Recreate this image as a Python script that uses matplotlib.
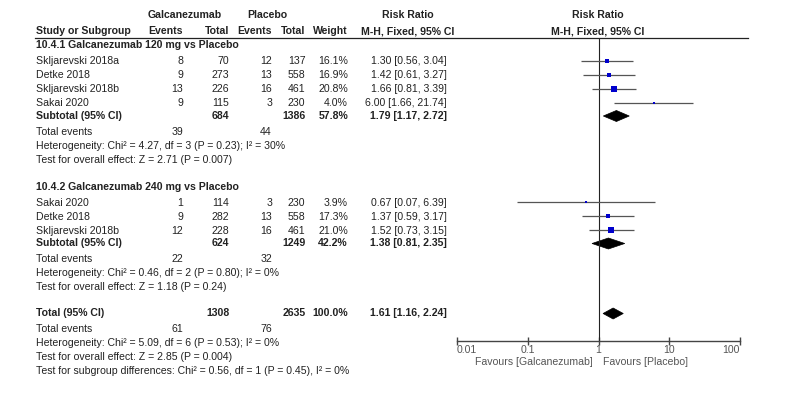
import numpy as np
import matplotlib
matplotlib.use("Agg")
import matplotlib.pyplot as plt
from matplotlib.patches import Polygon

plt.rcParams['font.family'] = ['Liberation Sans', 'DejaVu Sans']
FS = 7.6

# ---- data ----
g1_name = "10.4.1 Galcanezumab 120 mg vs Placebo"
g1_study = ["Skljarevski 2018a", "Detke 2018", "Skljarevski 2018b", "Sakai 2020"]
g1_ev_g = [8, 9, 13, 9]
g1_tot_g = [70, 273, 226, 115]
g1_ev_p = [12, 13, 16, 3]
g1_tot_p = [137, 558, 461, 230]
g1_w = [16.1, 16.9, 20.8, 4.0]
g1_rr = [1.30, 1.42, 1.66, 6.00]
g1_lo = [0.56, 0.61, 0.81, 1.66]
g1_hi = [3.04, 3.27, 3.39, 21.74]
g1_sub = (684, 1386, 57.8, 1.79, 1.17, 2.72)
g1_events = (39, 44)
g1_het = "Heterogeneity: Chi\u00b2 = 4.27, df = 3 (P = 0.23); I\u00b2 = 30%"
g1_z = "Test for overall effect: Z = 2.71 (P = 0.007)"

g2_name = "10.4.2 Galcanezumab 240 mg vs Placebo"
g2_study = ["Sakai 2020", "Detke 2018", "Skljarevski 2018b"]
g2_ev_g = [1, 9, 12]
g2_tot_g = [114, 282, 228]
g2_ev_p = [3, 13, 16]
g2_tot_p = [230, 558, 461]
g2_w = [3.9, 17.3, 21.0]
g2_rr = [0.67, 1.37, 1.52]
g2_lo = [0.07, 0.59, 0.73]
g2_hi = [6.39, 3.17, 3.15]
g2_sub = (624, 1249, 42.2, 1.38, 0.81, 2.35)
g2_events = (22, 32)
g2_het = "Heterogeneity: Chi\u00b2 = 0.46, df = 2 (P = 0.80); I\u00b2 = 0%"
g2_z = "Test for overall effect: Z = 1.18 (P = 0.24)"

tot = (1308, 2635, 100.0, 1.61, 1.16, 2.24)
tot_events = (61, 76)
tot_het = "Heterogeneity: Chi\u00b2 = 5.09, df = 6 (P = 0.53); I\u00b2 = 0%"
tot_z = "Test for overall effect: Z = 2.85 (P = 0.004)"
tot_sub = "Test for subgroup differences: Chi\u00b2 = 0.56, df = 1 (P = 0.45), I\u00b2 = 0%"

ticks = [0.01, 0.1, 1, 10, 100]
tick_labels = ["0.01", "0.1", "1", "10", "100"]

# ---- layout (pixel rows, top = 0) ----
W, H = 800, 404
fig = plt.figure(figsize=(W / 100, H / 100), dpi=100)
tab = fig.add_axes([0, 0, 1, 1])
tab.set_xlim(0, W)
tab.set_ylim(H, 0)
tab.axis('off')

ax_top, ax_bot, ax_l, ax_r = 37.5, 341, 457, 740
fx = fig.add_axes([ax_l / W, (H - ax_bot) / H, (ax_r - ax_l) / W, (ax_bot - ax_top) / H])
fx.set_xscale('log')
fx.set_xlim(0.01, 100)
fx.set_ylim(ax_bot, ax_top)
fx.patch.set_alpha(0)
for s in ['top', 'left', 'right']:
    fx.spines[s].set_visible(False)
fx.spines['bottom'].set_color('#444444')
fx.spines['bottom'].set_linewidth(1.0)
fx.set_yticks([])
fx.set_xticks(ticks)
fx.set_xticklabels(tick_labels)
fx.minorticks_off()
fx.tick_params(axis='x', direction='inout', length=6, width=1.0, color='#444444',
               labelsize=FS, labelcolor='#555555', pad=0)
lbls = fx.get_xticklabels()
lbls[0].set_ha('left')
lbls[-1].set_ha('right')
fx.axvline(1, color='#222222', lw=0.8)

xs = dict(name=36, evg=183, totg=229.5, evp=272, totp=305.5, w=348, rr=447)
txt = dict(fontsize=FS, color='#222222', va='center')


def row(y, name, evg, totg, evp, totp, w, rr, lo, hi, bold=False):
    fw = 'bold' if bold else 'normal'
    tab.text(xs['name'], y, name, ha='left', fontweight=fw, **txt)
    if evg is not None:
        tab.text(xs['evg'], y, str(evg), ha='right', fontweight=fw, **txt)
    tab.text(xs['totg'], y, str(totg), ha='right', fontweight=fw, **txt)
    if evp is not None:
        tab.text(xs['evp'], y, str(evp), ha='right', fontweight=fw, **txt)
    tab.text(xs['totp'], y, str(totp), ha='right', fontweight=fw, **txt)
    tab.text(xs['w'], y, "%.1f%%" % w, ha='right', fontweight=fw, **txt)
    tab.text(xs['rr'], y, "%.2f [%.2f, %.2f]" % (rr, lo, hi), ha='right', fontweight=fw, **txt)


def study_marks(y, w, rr, lo, hi):
    fx.plot([lo, hi], [y, y], color='#555555', lw=0.9, solid_capstyle='butt')
    fx.plot([rr], [y], marker='s', ms=0.8 * np.sqrt(w), color='#0000cc', mec='#0000cc', mew=0)


def diamond(y, rr, lo, hi):
    h = 5.5
    fx.add_patch(Polygon([(lo, y), (rr, y - h), (hi, y), (rr, y + h)], closed=True,
                         facecolor='black', edgecolor='black', lw=0.5))


def other(y, s, bold=False):
    tab.text(xs['name'], y, s, ha='left', fontweight='bold' if bold else 'normal', **txt)


# header
hb = dict(fontsize=FS, color='#222222', va='center', fontweight='bold')
tab.text(185, 15.5, "Galcanezumab", ha='center', **hb)
tab.text(267, 15.5, "Placebo", ha='center', **hb)
tab.text(408, 15.5, "Risk Ratio", ha='center', **hb)
tab.text(598, 15.5, "Risk Ratio", ha='center', **hb)
tab.text(xs['name'], 31, "Study or Subgroup", ha='left', **hb)
tab.text(xs['evg'], 31, "Events", ha='right', **hb)
tab.text(xs['totg'], 31, "Total", ha='right', **hb)
tab.text(xs['evp'], 31, "Events", ha='right', **hb)
tab.text(xs['totp'], 31, "Total", ha='right', **hb)
tab.text(xs['w'], 31, "Weight", ha='right', **hb)
tab.text(408, 31, "M-H, Fixed, 95% CI", ha='center', **hb)
tab.text(598, 31, "M-H, Fixed, 95% CI", ha='center', **hb)
tab.plot([35, 748], [37.5, 37.5], color='#222222', lw=0.9)


def group(y0, gname, study, evg, totg, evp, totp, w, rr, lo, hi, sub, events, het, z):
    other(y0, gname, bold=True)
    y = y0 + 16
    for i in range(len(study)):
        row(y, study[i], evg[i], totg[i], evp[i], totp[i], w[i], rr[i], lo[i], hi[i])
        study_marks(y, w[i], rr[i], lo[i], hi[i])
        y += 14
    y -= 1
    row(y, "Subtotal (95% CI)", None, sub[0], None, sub[1], sub[2], sub[3], sub[4], sub[5], bold=True)
    diamond(y, sub[3], sub[4], sub[5])
    y += 16
    other(y, "Total events")
    tab.text(xs['evg'], y, str(events[0]), ha='right', **txt)
    tab.text(xs['evp'], y, str(events[1]), ha='right', **txt)
    other(y + 14, het)
    other(y + 28, z)


group(45, g1_name, g1_study, g1_ev_g, g1_tot_g, g1_ev_p, g1_tot_p, g1_w, g1_rr, g1_lo, g1_hi,
      g1_sub, g1_events, g1_het, g1_z)
group(186.5, g2_name, g2_study, g2_ev_g, g2_tot_g, g2_ev_p, g2_tot_p, g2_w, g2_rr, g2_lo, g2_hi,
      g2_sub, g2_events, g2_het, g2_z)

yt = 313.5
row(yt, "Total (95% CI)", None, tot[0], None, tot[1], tot[2], tot[3], tot[4], tot[5], bold=True)
diamond(yt, tot[3], tot[4], tot[5])
other(yt + 15.5, "Total events")
tab.text(xs['evg'], yt + 15.5, str(tot_events[0]), ha='right', **txt)
tab.text(xs['evp'], yt + 15.5, str(tot_events[1]), ha='right', **txt)
other(yt + 29, tot_het)
other(yt + 43.5, tot_z)
other(yt + 57.5, tot_sub)

fav = dict(fontsize=FS, color='#555555', va='center')
tab.text(593, 362, "Favours [Galcanezumab]", ha='right', **fav)
tab.text(603, 362, "Favours [Placebo]", ha='left', **fav)

fig.savefig("out.png", dpi=100)
